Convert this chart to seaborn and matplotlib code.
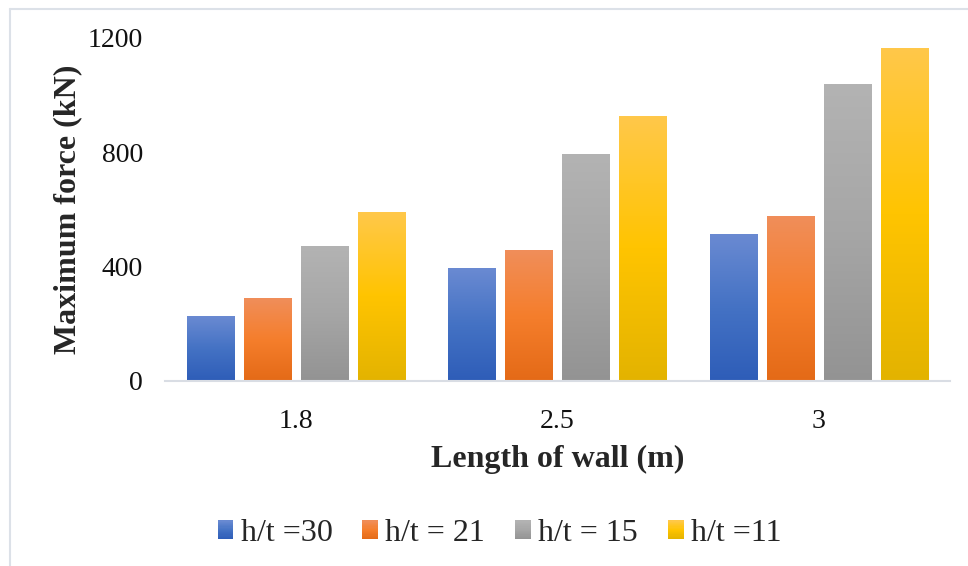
import numpy as np
import pandas as pd
import matplotlib
matplotlib.use("Agg")
import matplotlib.pyplot as plt
from matplotlib.colors import LinearSegmentedColormap
from matplotlib.patches import Patch, Rectangle
from matplotlib.lines import Line2D
from matplotlib.legend_handler import HandlerBase
import seaborn as sns

# Data
wall_lengths = ["1.8", "2.5", "3"]
series_names = ["h/t =30", "h/t = 21", "h/t = 15", "h/t =11"]
ht30 = [227, 392, 511]
ht21 = [290, 455, 577]
ht15 = [469, 794, 1036]
ht11 = [588, 924, 1162]
y_ticks = [0, 400, 800, 1200]

# Gradient stops (top, middle, bottom) for each series
stops = {
    "h/t =30": ["#6A8AD2", "#4472C4", "#2E5DB8"],
    "h/t = 21": ["#F08E5A", "#F57E2C", "#E46A17"],
    "h/t = 15": ["#B3B3B3", "#A6A6A6", "#939393"],
    "h/t =11": ["#FFC84A", "#FFC400", "#E3B300"],
}
cmaps = {k: LinearSegmentedColormap.from_list(k, v[::-1]) for k, v in stops.items()}

df = pd.DataFrame({
    "length": wall_lengths * 4,
    "series": np.repeat(series_names, 3),
    "force": ht30 + ht21 + ht15 + ht11,
})

sns.set_theme(style="white")
plt.rcParams["font.family"] = ["Liberation Serif", "DejaVu Serif"]

fig = plt.figure(figsize=(9.68, 5.66), dpi=100)
ax = fig.add_axes([0.1705, 0.3269, 0.8105, 0.606])

palette = {k: v[1] for k, v in stops.items()}
sns.barplot(data=df, x="length", y="force", hue="series", hue_order=series_names,
            order=wall_lengths, palette=palette, width=0.874, gap=0.175,
            legend=False, ax=ax, saturation=1)

ax.set_ylim(0, 1200)
xlim = ax.get_xlim()

# Replace flat fills with vertical gradients, using each bar's own geometry
for patch in list(ax.patches):
    x0, y0 = patch.get_x(), patch.get_y()
    w, h = patch.get_width(), patch.get_height()
    if h <= 0:
        continue
    fc = matplotlib.colors.to_hex(patch.get_facecolor())
    key = [k for k, v in stops.items() if v[1].lower() == fc.lower()][0]
    grad = np.linspace(0, 1, 256).reshape(-1, 1)
    ax.imshow(grad, extent=[x0, x0 + w, y0, y0 + h], origin="lower",
              cmap=cmaps[key], aspect="auto", zorder=patch.get_zorder() + 0.1,
              interpolation="bilinear")
    patch.set_visible(False)

ax.set_xlim(xlim)
ax.set_ylim(0, 1200)
ax.set_yticks(y_ticks)

for s in ["top", "right", "left"]:
    ax.spines[s].set_visible(False)
ax.spines["bottom"].set_color("#D9DDE4")
ax.spines["bottom"].set_linewidth(1.5)
ax.spines["bottom"].set_zorder(5)
ax.tick_params(axis="both", length=0, labelsize=20, colors="#111111")
ax.tick_params(axis="x", pad=20)
ax.tick_params(axis="y", pad=16)

ax.set_xlabel("Length of wall (m)", fontsize=23, fontweight="bold", labelpad=8)
ax.set_ylabel("Maximum force (kN)", fontsize=23, fontweight="bold", labelpad=4)


class GradientSquare(HandlerBase):
    """Legend key drawn as a small vertically shaded square."""

    def create_artists(self, legend, orig_handle, xdescent, ydescent,
                       width, height, fontsize, trans):
        cmap = cmaps[orig_handle.get_label()]
        n = 16
        strips = []
        for i in range(n):
            strips.append(Rectangle((-xdescent, -ydescent + height * i / n),
                                    width, height / n + 0.3,
                                    facecolor=cmap((i + 0.5) / n),
                                    edgecolor="none", transform=trans))
        return strips


handles = [Patch(facecolor=stops[n][1], edgecolor="none", label=n) for n in series_names]
fig.legend(handles=handles, loc="center", bbox_to_anchor=(0.516, 0.057), ncol=4,
           frameon=False, fontsize=23, handlelength=0.5, handleheight=0.5,
           handletextpad=0.22, columnspacing=0.94,
           handler_map={Patch: GradientSquare()})

# Chart area frame lines (top and left)
fig.add_artist(Line2D([10 / 968, 1.0], [1 - 9 / 566, 1 - 9 / 566],
                      transform=fig.transFigure, color="#DCE1E8", lw=1.5))
fig.add_artist(Line2D([10 / 968, 10 / 968], [0.0, 1 - 9 / 566],
                      transform=fig.transFigure, color="#DCE1E8", lw=1.5))

fig.savefig("out.png", dpi=100, facecolor="white")
